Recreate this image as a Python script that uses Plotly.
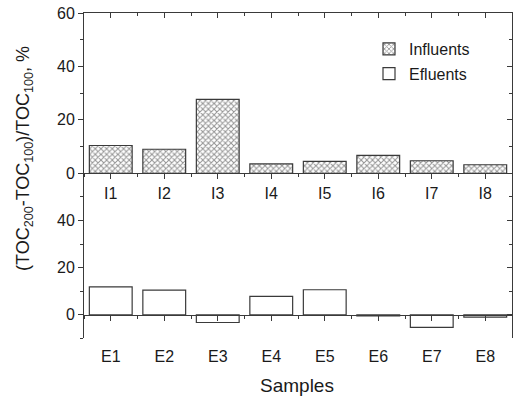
import plotly.graph_objects as go

# ---- data ----
influent_labels = ["I1", "I2", "I3", "I4", "I5", "I6", "I7", "I8"]
influent_values = [10.4, 9.0, 27.7, 3.5, 4.5, 6.7, 4.7, 3.2]
effluent_labels = ["E1", "E2", "E3", "E4", "E5", "E6", "E7", "E8"]
effluent_values = [11.8, 10.4, -3.3, 7.8, 10.6, -0.5, -5.4, -1.0]
positions = [1, 2, 3, 4, 5, 6, 7, 8]
top_ticks = [0, 20, 40, 60]
bottom_ticks = [0, 20, 40]

W, H = 515, 396
LINE = "#3a3a3a"
TXT = "#1a1a1a"
FONT = "Liberation Sans, Arial, sans-serif"

xdom = [84 / W, 512 / W]
top_dom = [1 - 173.3 / H, 1 - 13 / H]
bot_dom = [1 - 338.3 / H, 1 - 173.3 / H]
top_range = [0, 60]
bot_range = [-10, 60]
xrange_ = [0.5, 8.5]
zero_pos = bot_dom[0] + (bot_dom[1] - bot_dom[0]) * (0 - bot_range[0]) / (bot_range[1] - bot_range[0])

fig = go.Figure()
fig.add_trace(go.Bar(
    x=positions, y=influent_values, name="Influents",
    xaxis="x", yaxis="y",
    marker=dict(color="white", line=dict(color=LINE, width=1.2),
                pattern=dict(shape="x", size=4, solidity=0.45, fgcolor="#2a2a2a", bgcolor="white")),
    legendgroup="a",
))
fig.add_trace(go.Bar(
    x=positions, y=effluent_values, name="Efluents",
    xaxis="x2", yaxis="y2",
    marker=dict(color="white", line=dict(color=LINE, width=1.2)),
    legendgroup="b",
))
# helper empty traces so the mirror axes are drawn
for xa, ya in [("x3", "y"), ("x", "y3"), ("x2", "y4")]:
    fig.add_trace(go.Scatter(x=[], y=[], xaxis=xa, yaxis=ya, showlegend=False, hoverinfo="skip"))

tickfont = dict(family=FONT, size=16, color=TXT)
common_x = dict(range=xrange_, domain=xdom, showgrid=False, zeroline=False, tickmode="array",
                tickvals=positions, linecolor=LINE, linewidth=1, tickcolor=LINE,
                ticklen=5, tickwidth=1, automargin=False,
                minor=dict(tickmode="linear", tick0=0.5, dtick=1, ticklen=3, ticks="outside", tickcolor=LINE))

fig.update_layout(
    width=W, height=H, margin=dict(l=0, r=0, t=0, b=0, pad=0),
    paper_bgcolor="white", plot_bgcolor="rgba(0,0,0,0)",
    bargap=0.2, showlegend=True,
    font=dict(family=FONT, color=TXT),
    xaxis=dict(common_x, anchor="y", showline=True, ticks="outside",
               ticktext=influent_labels, tickfont=tickfont),
    xaxis2=dict(common_x, anchor="free", position=zero_pos, showline=True, ticks="outside",
                ticktext=effluent_labels, tickfont=tickfont, ticklabelstandoff=22),
    xaxis3=dict(common_x, overlaying="x", anchor="y", side="top", showline=True, ticks="inside",
                showticklabels=False,
                minor=dict(tickmode="linear", tick0=0.5, dtick=1, ticklen=3, ticks="inside", tickcolor=LINE)),
    yaxis=dict(domain=top_dom, range=top_range, anchor="x", showline=True, linecolor=LINE,
               ticks="outside", ticklen=5, tickcolor=LINE, tickmode="array", tickvals=top_ticks,
               tickfont=tickfont, showgrid=False, zeroline=False, automargin=False,
               minor=dict(tickmode="linear", tick0=0, dtick=10, ticklen=3, ticks="outside", tickcolor=LINE)),
    yaxis2=dict(domain=bot_dom, range=bot_range, anchor="x2", showline=True, linecolor=LINE,
                ticks="outside", ticklen=5, tickcolor=LINE, tickmode="array", tickvals=bottom_ticks,
                tickfont=tickfont, showgrid=False, zeroline=False, automargin=False,
                minor=dict(tickmode="linear", tick0=0, dtick=10, ticklen=3, ticks="outside", tickcolor=LINE)),
    yaxis3=dict(overlaying="y", side="right", anchor="x", range=top_range, showline=True, linecolor=LINE,
                ticks="inside", ticklen=5, tickcolor=LINE, tickmode="array", tickvals=top_ticks,
                showticklabels=False, showgrid=False, zeroline=False, automargin=False,
                minor=dict(tickmode="linear", tick0=0, dtick=10, ticklen=3, ticks="inside", tickcolor=LINE)),
    yaxis4=dict(overlaying="y2", side="right", anchor="x2", range=bot_range, showline=True, linecolor=LINE,
                ticks="inside", ticklen=5, tickcolor=LINE, tickmode="array", tickvals=bottom_ticks,
                showticklabels=False, showgrid=False, zeroline=False, automargin=False,
                minor=dict(tickmode="linear", tick0=0, dtick=10, ticklen=3, ticks="inside", tickcolor=LINE)),
    legend=dict(x=369 / W, y=1 - 32 / H, xanchor="left", yanchor="top",
                bgcolor="rgba(0,0,0,0)", font=dict(family=FONT, size=16, color=TXT),
                traceorder="grouped", tracegroupgap=1, itemclick=False),
    annotations=[
        dict(text="(TOC<sub>200</sub>-TOC<sub>100</sub>)/TOC<sub>100</sub>, %",
             x=24 / W, y=1 - 159 / H, xref="paper", yref="paper", textangle=-90,
             showarrow=False, font=dict(family=FONT, size=18, color=TXT),
             xanchor="center", yanchor="middle"),
        dict(text="Samples", x=297 / W, y=1 - 385 / H, xref="paper", yref="paper",
             showarrow=False, font=dict(family=FONT, size=19, color=TXT),
             xanchor="center", yanchor="middle"),
    ],
)

fig.write_html("out.html")
